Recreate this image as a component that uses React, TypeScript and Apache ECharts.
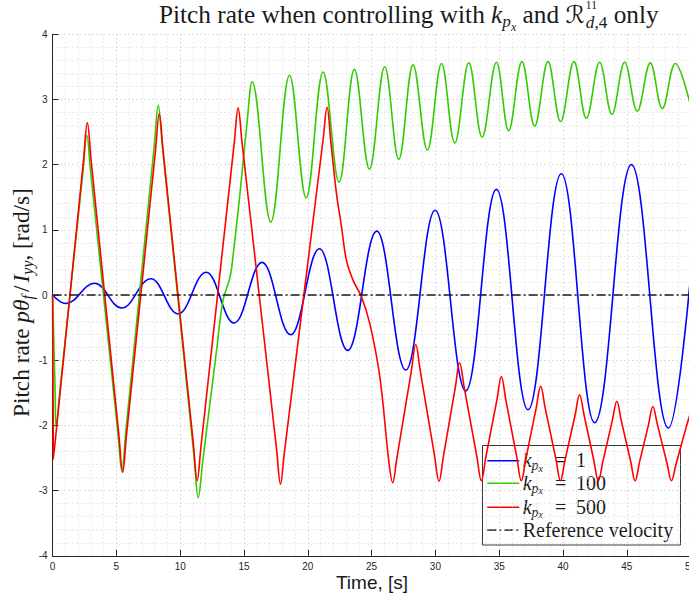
import React, { useEffect, useRef } from "react";
import * as echarts from "echarts";

const WIDTH = 689;
const HEIGHT = 604;

// Pitch-rate response, time in s, rate in rad/s.
// k_px = 1: slowly growing oscillation around zero (extrema only).
const gain1Time = [0, 1.03, 3.3, 5.41, 7.71, 9.84, 12.04, 14.23, 16.42, 18.66, 20.92, 23.13, 25.41, 27.68, 29.98, 32.38, 34.78, 37.26, 39.87, 42.48, 45.36, 48.26, 50];
const gain1Rate = [0, -0.13, 0.18, -0.2, 0.25, -0.29, 0.35, -0.43, 0.5, -0.61, 0.71, -0.85, 0.98, -1.15, 1.3, -1.47, 1.62, -1.76, 1.86, -1.96, 2.0, -2.04, 0.3];

// k_px = 100: triangular swings, then a settled oscillation near 3 rad/s.
const gain100Time = [
  0, 0.2, 0.27, 0.57, 2.38, 2.68, 2.98, 5.13, 5.43, 5.73, 7.98, 8.28, 8.58, 11.11, 11.41, 11.78,
  12.85, 13.36, 13.9, 14.16, 14.68, 15.21, 15.64, 17.1, 18.57, 19.87, 21.2, 22.45, 23.65, 24.83,
  26.03, 27.13, 28.25, 29.37, 30.48, 31.52, 32.62, 33.66, 34.78, 35.74, 36.78, 37.78, 38.82,
  39.81, 40.86, 41.83, 42.87, 43.83, 44.83, 45.82, 46.84, 47.78, 48.8, 50,
];
const gain100Rate = [
  0, -1.5, -2.03, -1.47, 1.89, 2.45, 1.89, -2.14, -2.7, -2.11, 2.32, 2.91, 2.33, -2.53, -3.11, -2.53,
  -0.85, -0.08, 0.27, 0.63, 1.55, 2.58, 3.27, 1.12, 3.37, 1.49, 3.42, 1.73, 3.46, 1.93,
  3.5, 2.08, 3.53, 2.22, 3.55, 2.33, 3.56, 2.42, 3.57, 2.52, 3.58, 2.59, 3.58,
  2.66, 3.58, 2.71, 3.57, 2.77, 3.57, 2.82, 3.56, 2.86, 3.55, 2.9,
];

// k_px = 500: large triangular swings, then oscillation below -1 rad/s.
const gain500Time = [
  0, 0.046, 0.06, 0.36, 2.42, 2.72, 3.02, 5.19, 5.49, 5.79, 8.06, 8.36, 8.66, 11.03, 11.33, 11.63,
  14.24, 14.54, 14.84, 17.56, 17.86, 18.16, 21.21, 21.51, 21.81, 22.25, 22.64, 23.03, 23.56, 24.21,
  24.86, 25.64, 26.38, 26.66, 26.95, 28.11, 28.46, 28.81, 29.93, 30.28, 30.63, 31.55, 31.9, 32.25,
  33.25, 33.6, 33.95, 34.82, 35.17, 35.52, 36.38, 36.73, 37.08, 37.9, 38.25, 38.6, 39.45, 39.8,
  40.15, 40.95, 41.3, 41.65, 42.42, 42.77, 43.12, 43.87, 44.22, 44.57, 45.3, 45.65, 46.0, 46.69,
  47.04, 47.39, 48.15, 48.5, 48.85, 49.65, 50,
];
const gain500Rate = [
  0, -1.94, -2.52, -1.94, 2.06, 2.64, 2.06, -2.14, -2.72, -2.15, 2.21, 2.78, 2.21, -2.28, -2.85, -2.32,
  2.34, 2.87, 2.35, -2.38, -2.9, -2.42, 2.4, 2.88, 2.34, 1.55, 1.05, 0.53, 0.22, -0.03,
  -0.44, -1.25, -2.6, -2.88, -2.54, -1.17, -0.76, -1.16, -2.46, -2.86, -2.47, -1.43, -1.04, -1.41,
  -2.48, -2.85, -2.49, -1.61, -1.25, -1.61, -2.49, -2.85, -2.52, -1.73, -1.4, -1.73, -2.52, -2.85,
  -2.54, -1.84, -1.53, -1.84, -2.54, -2.85, -2.56, -1.92, -1.63, -1.93, -2.55, -2.85, -2.56, -2.0,
  -1.71, -1.98, -2.58, -2.85, -2.6, -2.03, -1.8,
];

// Commanded (reference) pitch rate
const referenceTime = [0, 50];
const referenceRate = [0, 0];

const gainLabels = ["1", "100", "500"];
const referenceLabel = "Reference velocity";

const COLOR_GAIN1 = "#0000ff";
const COLOR_GAIN100 = "#33cc00";
const COLOR_GAIN500 = "#ff0000";
const COLOR_REF = "#1a1a1a";
const TEXT = "#1a1a1a";
const AXIS = "#262626";
const DASH_DOT = [9, 3, 2, 3];

const SERIF = '"Liberation Serif", "Times New Roman", serif';
const SANS = '"Liberation Sans", Arial, sans-serif';
const SCRIPT = '"DejaVu Serif", "DejaVu Sans", serif';

// plot rectangle
const PLOT_LEFT = 52.6;
const PLOT_TOP = 34.2;
const PLOT_W = 638;
const PLOT_H = 521.6;

type Run = {
  text: string;
  size: number;
  italic?: boolean;
  shift?: number; // baseline shift, positive = down
  gap?: number;
  at?: number;
  hold?: boolean; // next run starts at the same x (stacked scripts)
  family?: string;
};

const runFont = (r: Run) => `${r.italic ? "italic " : ""}${r.size}px ${r.family ?? SERIF}`;

let measureCtx: CanvasRenderingContext2D | null = null;
function measure(text: string, font: string, size: number) {
  if (!measureCtx) {
    const c = document.createElement("canvas");
    measureCtx = c.getContext("2d");
  }
  if (!measureCtx) return text.length * size * 0.5;
  measureCtx.font = font;
  return measureCtx.measureText(text).width;
}

function layoutRuns(runs: Run[], startX: number, baseline: number, fill: string) {
  const items: any[] = [];
  let x = startX;
  for (const r of runs) {
    if (r.at !== undefined) x = r.at;
    x += r.gap ?? 0;
    const font = runFont(r);
    items.push({
      type: "text",
      x,
      y: baseline + (r.shift ?? 0) - 0.34 * r.size,
      silent: true,
      style: { text: r.text, font, fill, align: "left", verticalAlign: "middle" },
    });
    if (!r.hold) x += measure(r.text, font, r.size);
  }
  return { items, end: x };
}

// scale a run list so that it spans the given width
function fitRuns(runs: Run[], width: number): Run[] {
  const w = layoutRuns(runs, 0, 0, TEXT).end;
  const k = width / w;
  return runs.map((r) => ({ ...r, size: r.size * k, shift: (r.shift ?? 0) * k, gap: (r.gap ?? 0) * k }));
}

const pairs = (t: number[], v: number[]) => t.map((x, i) => [x, v[i]]);

function buildGraphics() {
  const elements: any[] = [];

  // title
  const titleRuns = fitRuns(
    [
      { text: "Pitch rate when controlling with ", size: 22 },
      { text: "k", size: 22, italic: true },
      { text: "p", size: 15, italic: true, shift: 4 },
      { text: "x", size: 10.5, italic: true, shift: 7 },
      { text: " and ", size: 22 },
      { text: "ℛ", size: 21, family: SCRIPT },
      { text: "11", size: 10, shift: -12, hold: true, gap: 1 },
      { text: "d", size: 15, italic: true, shift: 5 },
      { text: ",4", size: 15, shift: 5 },
      { text: " only", size: 22 },
    ],
    500
  );
  elements.push(...layoutRuns(titleRuns, 159, 23, TEXT).items);

  // y-axis label, reading upwards
  const yRuns = fitRuns(
    [
      { text: "Pitch rate ", size: 22 },
      { text: "pθ", size: 22, italic: true },
      { text: "f", size: 15, italic: true, shift: 4 },
      { text: "/", size: 22, gap: 3 },
      { text: "I", size: 22, italic: true, gap: 3 },
      { text: "yy", size: 15, italic: true, shift: 4 },
      { text: ",", size: 22 },
      { text: " [rad/s]", size: 22 },
    ],
    229
  );
  elements.push({
    type: "group",
    x: 0,
    y: 302.5,
    rotation: Math.PI / 2,
    children: layoutRuns(yRuns, -229 / 2, 29, TEXT).items,
  });

  // x-axis label
  elements.push({
    type: "text",
    x: 372,
    y: 582,
    silent: true,
    style: { text: "Time, [s]", font: `19px ${SANS}`, fill: TEXT, align: "center", verticalAlign: "middle" },
  });

  // legend
  const box = { x: 482.5, y: 445.5, w: 198, h: 99.5 };
  const rowY = [460.7, 483.3, 507.3, 530];
  const sampleX1 = 487.3;
  const sampleX2 = 519.3;
  const textX = 522.7;
  const legendChildren: any[] = [
    {
      type: "rect",
      shape: { x: box.x, y: box.y, width: box.w, height: box.h },
      style: { fill: "#ffffff", stroke: "#3a3a3a", lineWidth: 1 },
    },
  ];
  const lineColors = [COLOR_GAIN1, COLOR_GAIN100, COLOR_GAIN500];
  gainLabels.forEach((g, i) => {
    legendChildren.push({
      type: "line",
      shape: { x1: sampleX1, y1: rowY[i], x2: sampleX2, y2: rowY[i] },
      style: { stroke: lineColors[i], lineWidth: 1.6 },
    });
    const runs: Run[] = [
      { text: "k", size: 20, italic: true },
      { text: "p", size: 14, italic: true, shift: 3.5 },
      { text: "x", size: 10, italic: true, shift: 5 },
      { text: "=", size: 20, at: 555 },
      { text: g, size: 20, at: 576 },
    ];
    legendChildren.push(...layoutRuns(runs, textX, rowY[i] + 6, TEXT).items);
  });
  legendChildren.push({
    type: "line",
    shape: { x1: sampleX1, y1: rowY[3], x2: sampleX2, y2: rowY[3] },
    style: { stroke: COLOR_REF, lineWidth: 1.6, lineDash: DASH_DOT },
  });
  legendChildren.push(...layoutRuns([{ text: referenceLabel, size: 20 }], textX, rowY[3] + 6.5, TEXT).items);
  elements.push({ type: "group", z: 100, children: legendChildren });

  return elements;
}

function buildOption(): any {
  const dotted = [1, 3];
  const axisCommon = {
    type: "value",
    axisLine: { show: true, onZero: false, lineStyle: { color: AXIS, width: 1 } },
    axisTick: { show: true, inside: true, length: 6, lineStyle: { color: AXIS } },
    splitLine: { show: true, lineStyle: { color: "#bdbdbd", type: dotted, width: 1 } },
    minorTick: { show: false, splitNumber: 5 },
    minorSplitLine: { show: true, lineStyle: { color: "#d6d6d6", type: dotted, width: 1 } },
  };
  return {
    animation: false,
    backgroundColor: "#ffffff",
    grid: {
      left: PLOT_LEFT,
      top: PLOT_TOP,
      width: PLOT_W,
      height: PLOT_H,
      containLabel: false,
      outerBoundsMode: "none",
    },
    xAxis: {
      ...axisCommon,
      min: 0,
      max: 50,
      interval: 5,
      axisLabel: { color: AXIS, fontSize: 10, fontFamily: SANS, margin: 6 },
    },
    yAxis: {
      ...axisCommon,
      min: -4,
      max: 4,
      interval: 1,
      axisLabel: { color: AXIS, fontSize: 10, fontFamily: SANS, margin: 5 },
    },
    series: [
      {
        name: "k_px = 1",
        type: "line",
        data: pairs(gain1Time, gain1Rate),
        smooth: 0.4,
        smoothMonotone: "x",
        symbol: "none",
        silent: true,
        lineStyle: { color: COLOR_GAIN1, width: 1.6 },
        itemStyle: { color: COLOR_GAIN1 },
      },
      {
        name: "k_px = 100",
        type: "line",
        data: pairs(gain100Time, gain100Rate),
        smooth: 0.38,
        symbol: "none",
        silent: true,
        lineStyle: { color: COLOR_GAIN100, width: 1.6 },
        itemStyle: { color: COLOR_GAIN100 },
      },
      {
        name: "k_px = 500",
        type: "line",
        data: pairs(gain500Time, gain500Rate),
        smooth: 0.38,
        symbol: "none",
        silent: true,
        lineStyle: { color: COLOR_GAIN500, width: 1.6 },
        itemStyle: { color: COLOR_GAIN500 },
      },
      {
        name: referenceLabel,
        type: "line",
        data: pairs(referenceTime, referenceRate),
        symbol: "none",
        silent: true,
        lineStyle: { color: COLOR_REF, width: 1.6, type: DASH_DOT },
        itemStyle: { color: COLOR_REF },
      },
    ],
    graphic: { elements: buildGraphics() },
  };
}

export default function App() {
  const ref = useRef<HTMLDivElement>(null);
  useEffect(() => {
    if (!ref.current) return;
    const chart = echarts.init(ref.current, undefined, { renderer: "svg", width: WIDTH, height: HEIGHT });
    chart.setOption(buildOption());
    return () => chart.dispose();
  }, []);
  return (
    <div
      ref={ref}
      style={{ position: "absolute", left: 0, top: 0, width: WIDTH, height: HEIGHT, background: "#ffffff" }}
    />
  );
}
